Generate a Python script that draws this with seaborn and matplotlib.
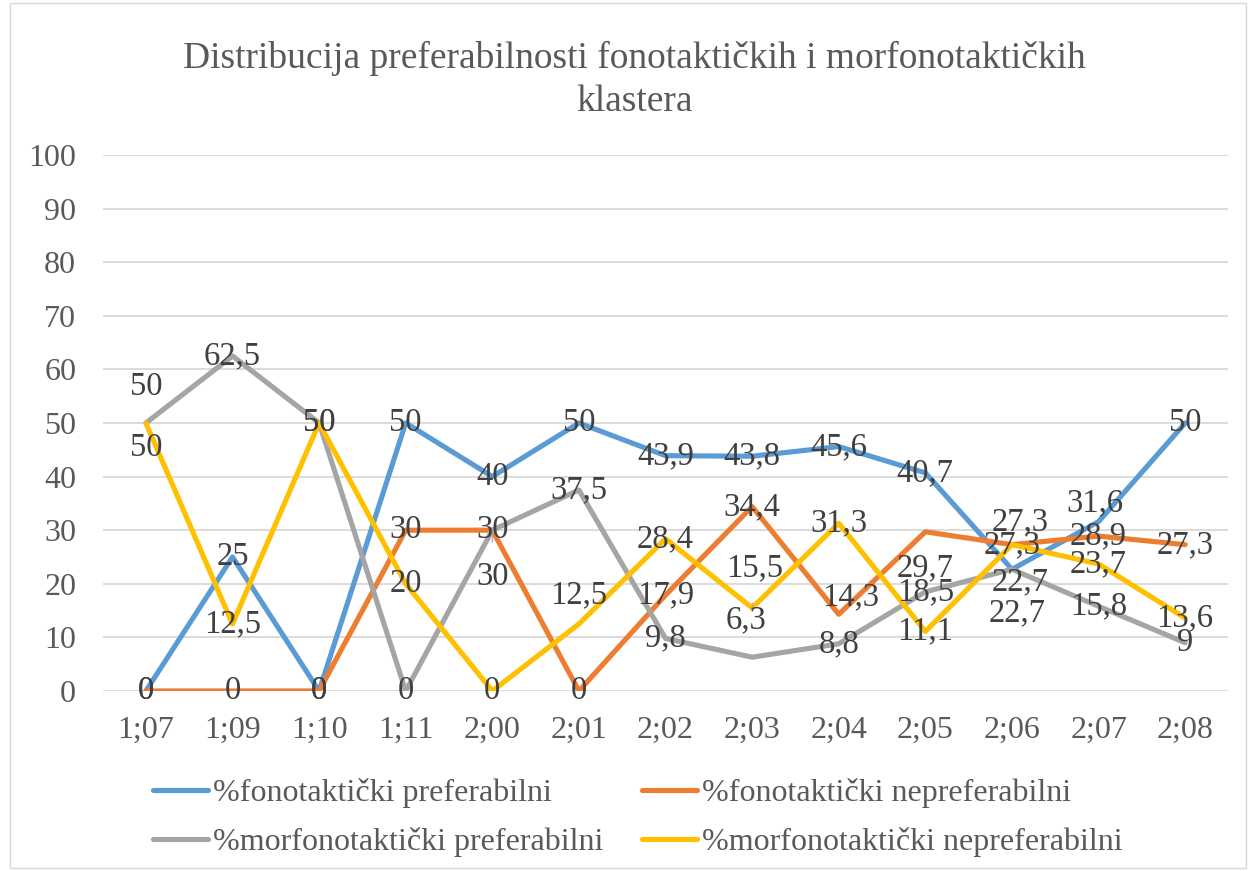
import pandas as pd
import matplotlib.pyplot as plt
import matplotlib.patches as patches
import seaborn as sns

# ==========================================
# DATA
# ==========================================
uzrast = ["1;07", "1;09", "1;10", "1;11", "2;00", "2;01", "2;02",
          "2;03", "2;04", "2;05", "2;06", "2;07", "2;08"]

fon_pref = [0, 25, 0, 50, 40, 50, 43.9, 43.8, 45.6, 40.7, 22.7, 31.6, 50]
fon_nepref = [0, 0, 0, 30, 30, 0, 17.9, 34.4, 14.3, 29.7, 27.3, 28.9, 27.3]
morf_pref = [50, 62.5, 50, 0, 30, 37.5, 9.8, 6.3, 8.8, 18.5, 22.7, 15.8, 9]
morf_nepref = [50, 12.5, 50, 20, 0, 12.5, 28.4, 15.5, 31.3, 11.1, 27.3, 23.7, 13.6]

serije = ["%fonotaktički preferabilni", "%fonotaktički nepreferabilni",
          "%morfonotaktički preferabilni", "%morfonotaktički nepreferabilni"]
boje = ["#5B9BD5", "#ED7D31", "#A5A5A5", "#FFC000"]

naslov = "Distribucija preferabilnosti fonotaktičkih i morfonotaktičkih\nklastera"

# pomaci oznaka (px), (serija, indeks) -> (dx, dy, linija)
pomaci = {
    (2, 0): (0, 36, True),
    (3, 0): (0, -25, False),
    (2, 4): (0, -47, True),
    (3, 5): (0, 29, False),
    (2, 7): (-6, 37, True),
    (3, 7): (2, 40, True),
    (1, 8): (12, 17, False),
    (1, 9): (0, -36, False),
    (1, 10): (8, 23, False),
    (0, 10): (8, -13, False),
    (2, 10): (5, -44, False),
    (0, 11): (-4, 19, False),
}

# ==========================================
# CRTANJE
# ==========================================
sns.set_theme(style="white")
plt.rcParams['font.family'] = ['Liberation Serif', 'DejaVu Serif']

vrijednosti = [fon_pref, fon_nepref, morf_pref, morf_nepref]
df = pd.concat([
    pd.DataFrame({"uzrast": uzrast, "postotak": v, "serija": s})
    for s, v in zip(serije, vrijednosti)
], ignore_index=True)

fig = plt.figure(figsize=(12.51, 8.71), dpi=100)
ax = fig.add_axes([0.082, 0.2067, 0.9, 0.6153])

sns.lineplot(data=df, x="uzrast", y="postotak", hue="serija",
             hue_order=serije, palette=boje, sort=False,
             linewidth=3.7, ax=ax, legend=False)

ax.set_ylim(0, 100)
ax.set_xlim(-0.5, len(uzrast) - 0.5)
ax.set_yticks(range(0, 101, 10))
ax.yaxis.grid(True, color="#D9D9D9", linewidth=1.3)
ax.xaxis.grid(False)
for sp in ax.spines.values():
    sp.set_visible(False)
ax.set_xlabel("")
ax.set_ylabel("")
ax.tick_params(axis="both", length=0, labelsize=23, labelcolor="#595959")
ax.tick_params(axis="x", pad=18)
ax.tick_params(axis="y", pad=19)
ax.set_axisbelow(True)

# oznake podataka
for si, v in enumerate(vrijednosti):
    for i, y in enumerate(v):
        dx, dy, linija = pomaci.get((si, i), (0, 0, False))
        tekst = ("%g" % y).replace(".", ",")
        ax.annotate(tekst, (i, y), xytext=(dx * 0.72, dy * 0.72),
                    textcoords="offset points", ha="center", va="center",
                    fontsize=23.5, color="#404040", zorder=5,
                    arrowprops=dict(arrowstyle="-", color="#A6A6A6", lw=0.8,
                                    shrinkA=12, shrinkB=0) if linija else None)

# legenda
rucke = [plt.Line2D([], [], color=c, linewidth=3.7) for c in boje]
redoslijed = [0, 2, 1, 3]
fig.legend([rucke[k] for k in redoslijed], [serije[k] for k in redoslijed],
           ncol=2, loc="center", bbox_to_anchor=(0.51, 0.061), frameon=False,
           fontsize=23, labelcolor="#595959", handlelength=1.72,
           handletextpad=0.16, columnspacing=1.2, labelspacing=0.6,
           borderpad=0, borderaxespad=0)

fig.text(0.507, 0.908, naslov, ha="center", va="center", fontsize=27,
         color="#595959", linespacing=1.3)

fig.patches.append(patches.Rectangle((0.008, 0.003), 0.988, 0.994,
                                     transform=fig.transFigure, fill=False,
                                     edgecolor="#D9D9D9", linewidth=1))

plt.savefig("out.png", dpi=100)
plt.close()
